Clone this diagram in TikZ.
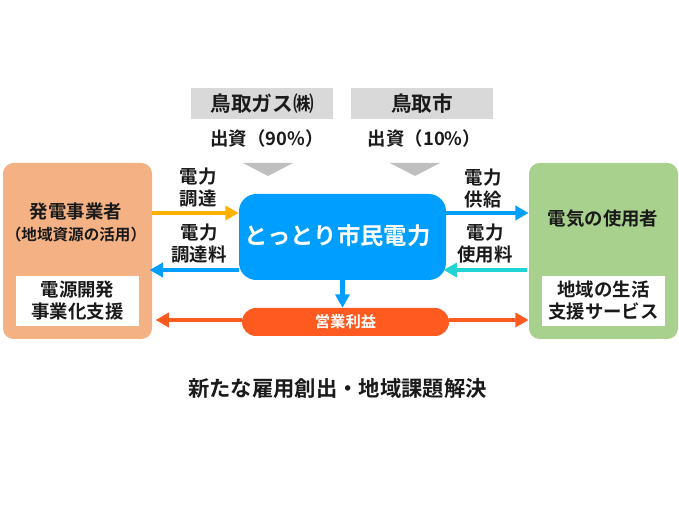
\documentclass[tikz,border=0pt]{standalone}
\usepackage{fontspec}
\setmainfont{Noto Sans CJK JP}[BoldFont={Noto Sans CJK JP Bold}]
\usetikzlibrary{arrows.meta}
\definecolor{peach}{HTML}{F4B183}
\definecolor{leaf}{HTML}{A9D18E}
\definecolor{sky}{HTML}{009FFF}
\definecolor{flame}{HTML}{FF5A1F}
\definecolor{amber}{HTML}{FFB000}
\definecolor{teal2}{HTML}{22D3D3}
\definecolor{ink}{HTML}{1A1A1A}
\begin{document}
\begin{tikzpicture}[x=0.75pt, y=-0.75pt, inner sep=0pt,
			party/.style = {fill=#1, rounded corners=8pt, minimum width=111.75pt, minimum height=132pt},
			backer/.style = {fill=black!15, minimum width=106.5pt, minimum height=23.25pt, font=\fontsize{15.5}{18}\selectfont\bfseries, text=ink},
			support/.style = {fill=white, minimum width=92.25pt, minimum height=37.5pt, align=center, font=\fontsize{13.8}{16.5}\selectfont\bfseries, text=ink},
			label/.style = {align=center, font=\fontsize{13.8}{16.5}\selectfont\bfseries, text=ink},
			flow/.style = {line width=3.5pt, draw=#1, -{Triangle[length=10pt, width=10.5pt, fill=#1]}}]
			
			\useasboundingbox (0,0) rectangle (679,505);
			
			\node[party=peach] (hatsuden) at (77.5,251) {};
			\node[party=leaf] (shiyosha) at (603.5,251) {};
			\node[fill=sky, rounded corners=13pt, minimum width=155.25pt, minimum height=64.5pt] (shimin) at (342.5,237) {};
			\node[text=white, font=\fontsize{17.5}{20}\selectfont\bfseries] (shimintxt) at (337.5,236) {とっとり市民電力};
			\node[fill=flame, rounded corners=10.5pt, minimum width=155.25pt, minimum height=21pt, text=white, font=\fontsize{11.5}{14}\selectfont\bfseries] (eigyo) at (345.5,322) {営業利益};
			
			\node[backer] (gas) at (262,103.5) {鳥取ガス㈱};
			\node[backer] (city) at (422,103.5) {鳥取市};
			\node[label] (gasshi) at (267,139) {出資（90\%）};
			\node[label] (cshi) at (424.5,139) {出資（10\%）};
			
			\fill[black!25] (243,163) -- (293,163) -- (268,176) -- cycle;
			\fill[black!25] (390,163) -- (440,163) -- (415,176) -- cycle;
			
			\node[support] (kaihatsu) at (77.5,301) {電源開発\\事業化支援};
			\node[support] (seikatsu) at (603.5,301) {地域の生活\\支援サービス};
			\node[label] (hatsutxt) at (76,222) {発電事業者\\{\fontsize{11.7}{15}\selectfont （地域資源の活用）}};
			\node[label] (shiyotxt) at (603,219) {電気の使用者};
			
			\node[label] (chotatsu) at (198,188) {電力\\調達};
			\node[label] (choryo) at (199,244) {電力\\調達料};
			\node[label] (kyokyu) at (483,189) {電力\\供給};
			\node[label] (shiyoryo) at (485,244) {電力\\使用料};
			\node[label, font=\fontsize{16}{18}\selectfont\bfseries] (shutsu) at (337.5,388) {新たな雇用創出・地域課題解決};
			
			\coordinate (upper) at (0,213);
			\coordinate (lower) at (0,270);
			\coordinate (profit) at (0,320);
			
			\draw[flow=amber] (hatsuden.east |- upper) -- (shimin.west |- upper);
			\draw[flow=sky] (shimin.east |- upper) -- (shiyosha.west |- upper);
			\draw[flow=sky] (shimin.west |- lower) -- ([xshift=-2pt]hatsuden.east |- lower);
			\draw[flow=teal2] ([xshift=-1.5pt]shiyosha.west |- lower) -- ([xshift=-2pt]shimin.east |- lower);
			\draw[flow=sky] (shimin.south) -- (shimin.south |- eigyo.north);
			\draw[flow=flame] (eigyo.west |- profit) -- ([xshift=2.5pt]hatsuden.east |- profit);
			\draw[flow=flame] (eigyo.east |- profit) -- (shiyosha.west |- profit);
		\end{tikzpicture}
\end{document}
